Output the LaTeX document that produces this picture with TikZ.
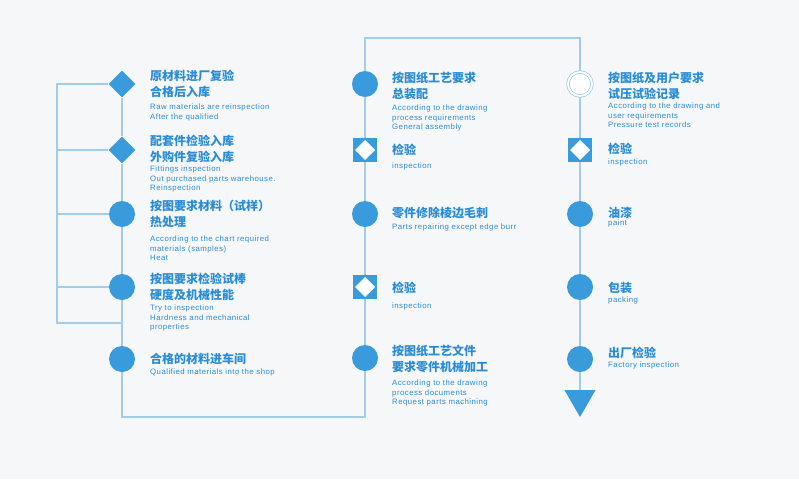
\documentclass[tikz,border=0pt]{standalone}
\usepackage{fontspec}
\setmainfont{Liberation Sans}
\newfontfamily\enf[LetterSpace=6]{Liberation Sans}
\newfontfamily\cjk{Noto Sans CJK SC}
\usetikzlibrary{shapes.geometric,backgrounds}
\definecolor{nodeblue}{HTML}{3A9BDC}
\definecolor{lineblue}{HTML}{A2CDEA}
\definecolor{txtblue}{HTML}{2A8CD4}
\definecolor{bgc}{HTML}{F5F7F9}
\begin{document}
\begin{tikzpicture}[x=1pt,y=-1pt,
  dot/.style={circle,fill=nodeblue,minimum size=26pt,inner sep=0pt},
  ring/.style={circle,draw=lineblue,line width=0.8pt,double=white,double distance=1.8pt,fill=white,minimum size=24pt,inner sep=0pt},
  dia/.style={diamond,fill=nodeblue,minimum size=27pt,inner sep=0pt},
  sqd/.style={rectangle,fill=nodeblue,minimum size=24pt,inner sep=0pt,
    path picture={\fill[white] ([yshift=-2pt]path picture bounding box.north) -- ([xshift=-2pt]path picture bounding box.east) -- ([yshift=2pt]path picture bounding box.south) -- ([xshift=2pt]path picture bounding box.west) -- cycle;}},
  tri/.style={regular polygon,regular polygon sides=3,shape border rotate=180,fill=nodeblue,minimum size=36pt,inner sep=0pt},
  ln/.style={draw=lineblue,line width=1.3pt},
  cnt/.style={anchor=north west,inner sep=0pt,align=left,text=txtblue,font=\cjk\bfseries\fontsize{12}{16}\selectfont},
  ent/.style={anchor=north west,inner sep=0pt,align=left,text=txtblue,font=\enf\fontsize{7.8}{9.5}\selectfont}
]
\useasboundingbox (0,0) rectangle (799,479);
% left column
\node[dia] (L1) at (122,84) {};
\node[dia] (L2) at (122,150) {};
\node[dot] (L3) at (122,214) {};
\node[dot] (L4) at (122,287) {};
\node[dot] (L5) at (122,359) {};
% middle column
\node[dot] (M1) at (365,84) {};
\node[sqd] (M2) at (365,150) {};
\node[dot] (M3) at (365,214) {};
\node[sqd] (M4) at (365,287) {};
\node[dot] (M5) at (365,358) {};
% right column
\node[ring] (R1) at (580,84) {};
\node[sqd] (R2) at (580,150) {};
\node[dot] (R3) at (580,214) {};
\node[dot] (R4) at (580,287) {};
\node[dot] (R5) at (580,359) {};
\node[tri] (R6) at (580,399) {};
% corner coordinates
\coordinate (B1) at (57,84);
\coordinate (B2) at (57,323);
\coordinate (B3) at (122,323);
\coordinate (C1) at (122,417);
\coordinate (C2) at (365,417);
\coordinate (C3) at (365,38);
\coordinate (C4) at (580,38);
% texts left
\node[cnt] (L1c) at (150,70) {原材料进厂复验\\合格后入库};
\node[ent] (L1e) at (150,104) {Raw materials are reinspection\\After the qualified};
\node[cnt] (L2c) at (150,135) {配套件检验入库\\外购件复验入库};
\node[ent] (L2e) at (150,166) {Fittings inspection\\Out purchased parts warehouse.\\Reinspection};
\node[cnt] (L3c) at (150,200) {按图要求材料（试样）\\热处理};
\node[ent] (L3e) at (150,236) {According to the chart required\\materials (samples)\\Heat};
\node[cnt] (L4c) at (150,273) {按图要求检验试棒\\硬度及机械性能};
\node[ent] (L4e) at (150,305) {Try to inspection\\Hardness and mechanical\\properties};
\node[cnt] (L5c) at (150,353) {合格的材料进车间};
\node[ent] (L5e) at (150,369) {Qualified materials into the shop};
% texts middle
\node[cnt] (M1c) at (392,72) {按图纸工艺要求\\总装配};
\node[ent] (M1e) at (392,105) {According to the drawing\\process requirements\\General assembly};
\node[cnt] (M2c) at (392,144) {检验};
\node[ent] (M2e) at (392,163) {inspection};
\node[cnt] (M3c) at (392,207) {零件修除棱边毛刺};
\node[ent] (M3e) at (392,224) {Parts repairing except edge burr};
\node[cnt] (M4c) at (392,282) {检验};
\node[ent] (M4e) at (392,303) {inspection};
\node[cnt] (M5c) at (392,345) {按图纸工艺文件\\要求零件机械加工};
\node[ent] (M5e) at (392,380) {According to the drawing\\process documents\\Request parts machining};
% texts right
\node[cnt] (R1c) at (608,72) {按图纸及用户要求\\试压试验记录};
\node[ent] (R1e) at (608,103) {According to the drawing and\\user requirements\\Pressure test records};
\node[cnt] (R2c) at (608,143) {检验};
\node[ent] (R2e) at (608,159) {inspection};
\node[cnt] (R3c) at (608,207) {油漆};
\node[ent] (R3e) at (608,220) {paint};
\node[cnt] (R4c) at (608,282) {包装};
\node[ent] (R4e) at (608,297) {packing};
\node[cnt] (R5c) at (608,347) {出厂检验};
\node[ent] (R5e) at (608,362) {Factory inspection};
\begin{scope}[on background layer]
\fill[bgc] (0,0) rectangle (799,479);
\draw[ln] (L1) -- (B1) -- (B2) -- (B3);
\draw[ln] (L2) -- (L2 -| B1);
\draw[ln] (L3) -- (L3 -| B1);
\draw[ln] (L4) -- (L4 -| B1);
\draw[ln] (L1) -- (L2) -- (L3) -- (L4) -- (L5) -- (C1) -- (C2) -- (M5) -- (M4) -- (M3) -- (M2) -- (M1) -- (C3) -- (C4) -- (R1) -- (R2) -- (R3) -- (R4) -- (R5) -- (R6);
\end{scope}
\end{tikzpicture}
\end{document}
